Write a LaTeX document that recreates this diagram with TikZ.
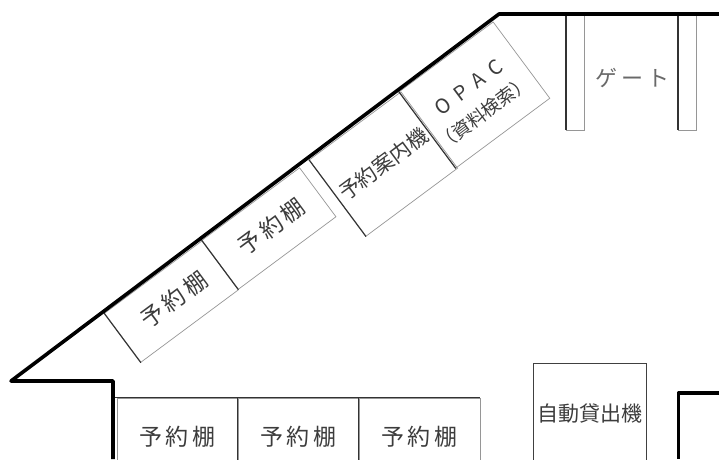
\documentclass[tikz,border=0pt]{standalone}
\usepackage{fontspec}
\usepackage{tikz}
\usetikzlibrary{positioning}
\newfontfamily\jpfont{Noto Sans CJK JP}
\definecolor{edgegray}{RGB}{150,150,150}
\definecolor{inkgray}{RGB}{60,60,60}
\newcommand{\jpsize}[1]{\fontsize{#1}{#1}\selectfont}

\begin{document}
\begin{tikzpicture}[x=1pt,y=-1pt,node distance=121pt,on grid,
    every node/.style={inner sep=0pt,text=inkgray,font=\jpfont},
    wall/.style={line width=3.6pt,line join=round},
    thinside/.style={draw=edgegray,line width=0.7pt},
    darkside/.style={draw=black!80,line width=1.1pt},
    shelf/.style={thinside,minimum width=121pt,minimum height=78pt,font=\jpfont\jpsize{23}},
    slanted/.style={thinside,rotate=36.6,minimum height=61pt,minimum width=121.5pt,font=\jpfont\jpsize{23}},
    kiosk/.style={thinside,rotate=36.6,minimum height=95pt,font=\jpfont\jpsize{19}},
    post/.style={thinside,minimum width=18pt,minimum height=116pt}]
        \useasboundingbox (0,0) rectangle (719,459);
        % walls
        \coordinate (w_0) at (719,14);
        \coordinate (w_1) at (499,14);
        \coordinate (w_2) at (11,381);
        \coordinate (w_3) at (113,381);
        \coordinate (w_4) at (113,459);
        \coordinate (w_5) at (719,393);
        \coordinate (w_6) at (678.5,393);
        \coordinate (w_7) at (678.5,459);

        % shelves along the slanted wall
        \node[slanted]                  (s_1) at (171.5,301.5)  {\hspace*{6pt}予\,約\,棚};
        \node[slanted]                  (s_2) at (269,228.5)    {\hspace*{6pt}予\,約\,棚};
        \node[kiosk,minimum width=114pt] (k_1) at (383.5,164)   {\jpsize{21}予約案内機};
        \node[kiosk,minimum width=112pt,align=center] (k_2) at (474.5,95)
              {\rule{0pt}{26pt}\jpsize{20}O\ \ P\ \ A\ \ C\\[10pt]\jpsize{18.5}（資料検索）\hspace*{6pt}};

        % gate
        \node[post]                     (g_1) at (575,72)       {};
        \node[post]                     (g_2) at (687,72)       {};
        \node[font=\jpfont\jpsize{22},text=edgegray!70!black] (g_t) at (632.5,78) {ゲ\,ー\,ト};

        % shelves along the bottom
        \node[shelf]                    (b_1) at (177.5,437)    {予\,約\,棚};
        \node[shelf]                    (b_2) [right of = b_1]  {予\,約\,棚};
        \node[shelf]                    (b_3) [right of = b_2]  {予\,約\,棚};

        % loan machine
        \node[draw=black!75,line width=0.7pt,minimum width=113pt,minimum height=102pt,font=\jpfont\jpsize{21}]
              (m_1) at (589.5,414) {自動貸出機};

        \path[darkside] (s_1.north west) edge (s_1.south west)
                        (s_2.north west) edge (s_2.south west)
                        (k_1.north west) edge (k_1.south west)
                        (k_2.north west) edge (k_2.south west)
                        (w_3 |- b_1.north) edge (b_1.north east)
                        (b_2.north west) edge (b_2.north east)
                        (b_3.north west) edge (b_3.north east)
                        (b_2.north west) edge (b_2.south west)
                        (b_3.north west) edge (b_3.south west);
        \path[darkside,line width=1.8pt] (g_1.north west) edge (g_1.south west)
                        (g_2.north west) edge (g_2.south west);

        \draw[wall] (w_0) -- (w_1) -- (w_2) -- (w_3) -- (w_4);
        \draw[wall] (w_5) -- (w_6) -- (w_7);
\end{tikzpicture}
\end{document}
